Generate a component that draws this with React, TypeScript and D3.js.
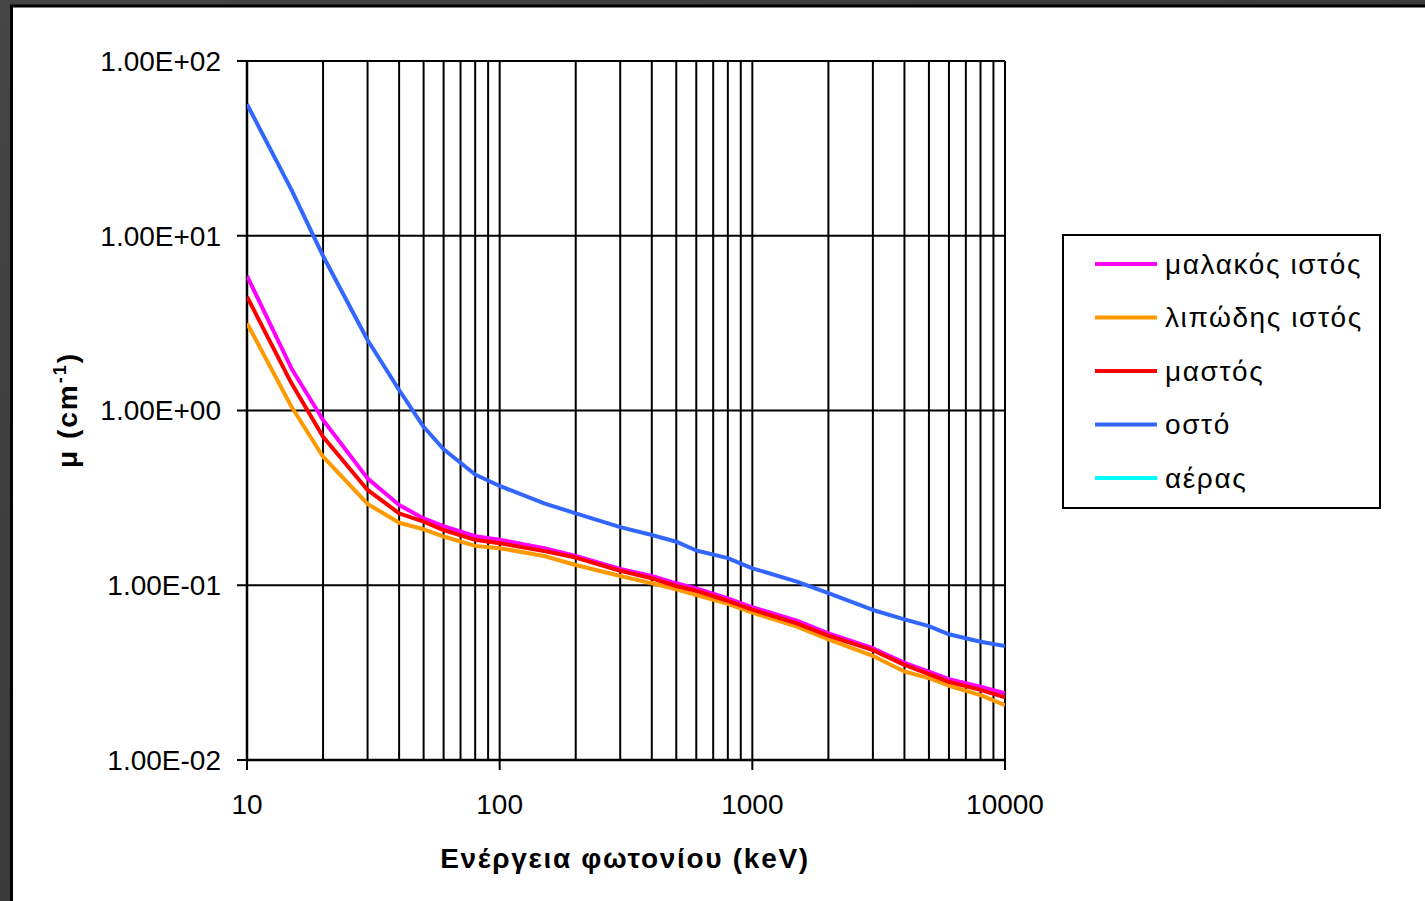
import React from "react";
import * as d3 from "d3";

// Photon energy (keV)
const energies = [10, 15, 20, 30, 40, 50, 60, 80, 100, 150, 200, 300, 400, 500, 600, 800, 1000, 1500, 2000, 3000, 4000, 5000, 6000, 8000, 10000];

// Linear attenuation coefficient μ (cm^-1)
const softTissue = [5.89, 1.74, 0.883, 0.409, 0.288, 0.241, 0.218, 0.191, 0.182, 0.163, 0.147, 0.124, 0.113, 0.1026, 0.096, 0.084, 0.0748, 0.0627, 0.0531, 0.0436, 0.036, 0.032, 0.029, 0.0263, 0.0241];
const adiposeTissue = [3.16, 1.05, 0.544, 0.292, 0.228, 0.209, 0.19, 0.168, 0.163, 0.147, 0.1306, 0.113, 0.1026, 0.0948, 0.088, 0.0783, 0.0697, 0.058, 0.049, 0.0394, 0.0321, 0.0294, 0.0266, 0.0235, 0.0206];
const breast = [4.48, 1.43, 0.708, 0.351, 0.258, 0.231, 0.207, 0.182, 0.174, 0.157, 0.144, 0.121, 0.1096, 0.099, 0.093, 0.0815, 0.0725, 0.0605, 0.0515, 0.0425, 0.035, 0.031, 0.028, 0.0252, 0.0228];
const bone = [56.7, 18.3, 7.66, 2.53, 1.31, 0.807, 0.6, 0.43, 0.37, 0.294, 0.258, 0.215, 0.194, 0.1775, 0.158, 0.143, 0.125, 0.105, 0.09, 0.0722, 0.0638, 0.0584, 0.0524, 0.0475, 0.0449];
// air lies entirely below the visible range (μ < 0.01 cm^-1)
const air: number[] = [];

const seriesNames = ["μαλακός ιστός", "λιπώδης ιστός", "μαστός", "οστό", "αέρας"];
const seriesColors = ["#FF00FF", "#FF9900", "#FF0000", "#3366FF", "#00FFFF"];
const seriesValues = [softTissue, adiposeTissue, breast, bone, air];

const xTickValues = [10, 100, 1000, 10000];
const xTickLabels = ["10", "100", "1000", "10000"];
const yTickValues = [0.01, 0.1, 1, 10, 100];
const yTickLabels = ["1.00E-02", "1.00E-01", "1.00E+00", "1.00E+01", "1.00E+02"];

const W = 1425;
const H = 901;
const plot = { left: 247, right: 1005, top: 61, bottom: 760 };
const FONT = "'Liberation Sans', Arial, sans-serif";

export default function App() {
  const x = d3.scaleLog().domain([10, 10000]).range([plot.left, plot.right]);
  const y = d3.scaleLog().domain([0.01, 100]).range([plot.bottom, plot.top]);

  const minorX: number[] = [];
  for (let dec = 10; dec < 10000; dec *= 10) {
    for (let k = 2; k <= 9; k++) minorX.push(dec * k);
  }

  const line = d3
    .line<[number, number]>()
    .x((d) => x(d[0]))
    .y((d) => y(d[1]));

  const legend = { x: 1063, y: 235, w: 317, h: 273 };
  const rowY = (i: number) => 264 + i * 53.5;

  return (
    <svg
      width={W}
      height={H}
      style={{ position: "absolute", left: 0, top: 0, display: "block" }}
      fontFamily={FONT}
    >
      <defs>
        <clipPath id="plotClip">
          <rect x={plot.left} y={plot.top} width={plot.right - plot.left} height={plot.bottom - plot.top} />
        </clipPath>
        <linearGradient id="bgGrad" x1="0" y1="0" x2="1" y2="1">
          <stop offset="0" stopColor="#454545" />
          <stop offset="0.5" stopColor="#3a3a3a" />
          <stop offset="1" stopColor="#404040" />
        </linearGradient>
      </defs>
      {/* dark frame */}
      <rect x={0} y={0} width={W} height={H} fill="url(#bgGrad)" />
      <rect x={11.5} y={6} width={W} height={H} fill="#ffffff" stroke="#000" strokeWidth={3} />

      {/* minor vertical gridlines */}
      {minorX.map((v) => (
        <line key={"mx" + v} x1={x(v)} x2={x(v)} y1={plot.top} y2={plot.bottom} stroke="#000" strokeWidth={2} />
      ))}
      {/* major vertical gridlines + ticks */}
      {xTickValues.map((v) => (
        <line key={"Mx" + v} x1={x(v)} x2={x(v)} y1={plot.top} y2={plot.bottom + 10} stroke="#000" strokeWidth={2} />
      ))}
      {/* horizontal gridlines + ticks */}
      {yTickValues.map((v) => (
        <line key={"My" + v} x1={plot.left - 10} x2={plot.right} y1={y(v)} y2={y(v)} stroke="#000" strokeWidth={2} />
      ))}
      {/* axis lines */}
      <line x1={plot.left} x2={plot.left} y1={plot.top} y2={plot.bottom} stroke="#000" strokeWidth={2.5} />
      <line x1={plot.left} x2={plot.right} y1={plot.bottom} y2={plot.bottom} stroke="#000" strokeWidth={2.5} />

      {/* series */}
      <g clipPath="url(#plotClip)">
        {seriesValues.map((vals, i) =>
          vals.length ? (
            <path
              key={"s" + i}
              d={line(vals.map((v, j) => [energies[j], v] as [number, number])) || ""}
              fill="none"
              stroke={seriesColors[i]}
              strokeWidth={4}
              strokeLinejoin="round"
            />
          ) : null
        )}
      </g>

      {/* y tick labels */}
      {yTickValues.map((v, i) => (
        <text key={"yl" + v} x={221} y={y(v)} dy="0.35em" textAnchor="end" fontSize={28} fill="#000">
          {yTickLabels[i]}
        </text>
      ))}
      {/* x tick labels */}
      {xTickValues.map((v, i) => (
        <text key={"xl" + v} x={x(v)} y={814} textAnchor="middle" fontSize={28} fill="#000">
          {xTickLabels[i]}
        </text>
      ))}

      {/* axis titles */}
      <text x={625} y={868} textAnchor="middle" fontSize={28} fontWeight="bold" fill="#000" letterSpacing={1.7}>
        Ενέργεια φωτονίου (keV)
      </text>
      <text
        transform={`translate(77, 410) rotate(-90)`}
        textAnchor="middle"
        fontSize={28}
        fontWeight="bold"
        fill="#000"
        letterSpacing={2}
      >
        μ (cm
        <tspan dy={-11} fontSize={18}>-1</tspan>
        <tspan dy={11}>)</tspan>
      </text>

      {/* legend */}
      <rect x={legend.x} y={legend.y} width={legend.w} height={legend.h} fill="#fff" stroke="#000" strokeWidth={2} />
      {seriesNames.map((name, i) => (
        <g key={"lg" + i}>
          <line x1={1095} x2={1157} y1={rowY(i)} y2={rowY(i)} stroke={seriesColors[i]} strokeWidth={4} />
          <text x={1165} y={rowY(i)} dy="0.35em" fontSize={28} fill="#000" letterSpacing={1.6}>
            {name}
          </text>
        </g>
      ))}
    </svg>
  );
}
